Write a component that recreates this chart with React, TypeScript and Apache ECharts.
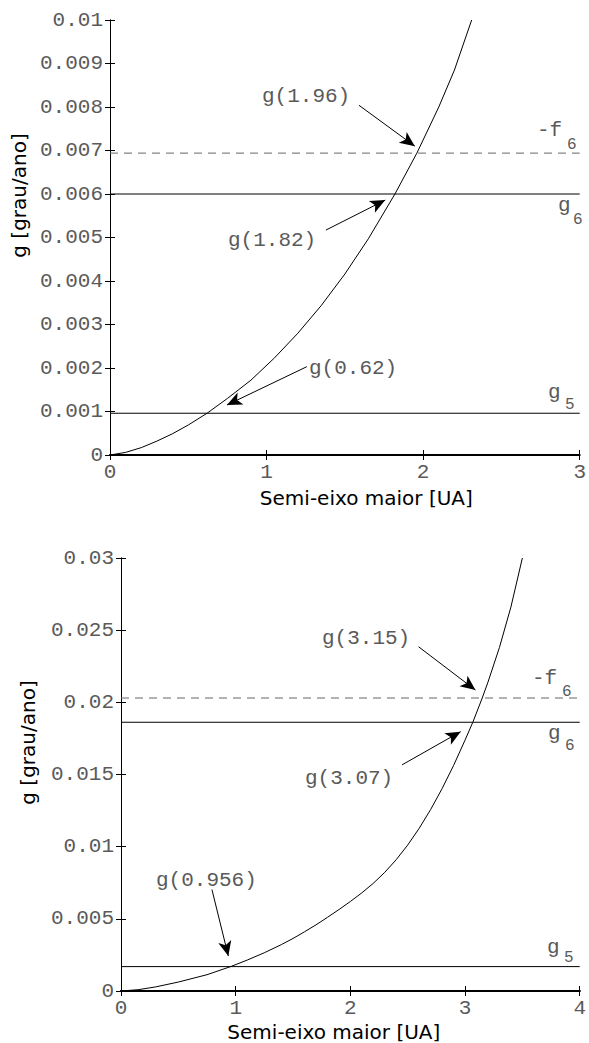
import React, { useEffect, useRef } from "react";
import * as echarts from "echarts";

// ---- Top panel data ----
const topA = [0, 0.1, 0.2, 0.3, 0.4, 0.5, 0.62, 0.75, 0.9, 1.05, 1.2, 1.35, 1.5, 1.65, 1.82, 1.96, 2.1, 2.2, 2.31];
const topG = [0, 0.00006, 0.00017, 0.00032, 0.00049, 0.00069, 0.00096, 0.0013, 0.00172, 0.00223, 0.0028, 0.00344, 0.00416, 0.00497, 0.006, 0.00694, 0.008, 0.00885, 0.01];
const topLevels = { g6: 0.006, f6: 0.00694, g5: 0.00096 };
const topXTicks = [0, 1, 2, 3];
const topYMax = 0.01;
const topYStep = 0.001;
// arrows: [fromA, fromG, toA, toG]
const topArrows = [
  [1.59, 0.00804, 1.947, 0.0071],
  [1.379, 0.00517, 1.758, 0.00586],
  [1.257, 0.00203, 0.747, 0.00115],
];
const topNotes = ["g(1.96)", "g(1.82)", "g(0.62)"];

// ---- Bottom panel data ----
const botA = [0, 0.15, 0.3, 0.5, 0.75, 0.956, 1.1, 1.25, 1.4, 1.5, 1.6, 1.7, 1.8, 1.9, 2.0, 2.1, 2.2, 2.3, 2.4, 2.5, 2.6, 2.7, 2.8, 2.9, 3.0, 3.07, 3.15, 3.2, 3.3, 3.4, 3.5];
const botG = [0, 0.00009, 0.00028, 0.00062, 0.00113, 0.00169, 0.00214, 0.00265, 0.00322, 0.00364, 0.0041, 0.00458, 0.0051, 0.00564, 0.0062, 0.0068, 0.00746, 0.00822, 0.0091, 0.01011, 0.01127, 0.01257, 0.01402, 0.01562, 0.01738, 0.01866, 0.0203, 0.0214, 0.0238, 0.0266, 0.03];
const botLevels = { g6: 0.01862, f6: 0.0203, g5: 0.00169 };
const botXTicks = [0, 1, 2, 3, 4];
const botYMax = 0.03;
const botYStep = 0.005;
const botArrows = [
  [2.595, 0.02385, 3.091, 0.02085],
  [2.451, 0.01567, 2.962, 0.01797],
  [0.793, 0.00703, 0.936, 0.00242],
];
const botNotes = ["g(3.15)", "g(3.07)", "g(0.956)"];

const MONO = "Liberation Mono";
const SANS = "DejaVu Sans";
const GREY = "#5a5a5a";

function fmt(v: number) {
  if (v === 0) return "0";
  let s = v.toFixed(3);
  s = s.replace(/0+$/, "");
  return s;
}

export default function App() {
  const ref = useRef<HTMLDivElement>(null);
  useEffect(() => {
    if (!ref.current) return;
    const chart = echarts.init(ref.current, undefined, { renderer: "svg" });

    const grids = [
      { left: 110, top: 20, width: 475, height: 435 },
      { left: 121, top: 558, width: 463, height: 434 },
    ];

    const tickLabel = { fontFamily: MONO, fontSize: 21, color: GREY };
    const axisLine = { show: true, lineStyle: { color: "#000", width: 1 } };
    const tick = { show: true, inside: true, length: 5, lineStyle: { color: "#000", width: 1 } };

    const mkX = (gi: number, max: number, pos: "top" | "bottom", labels: boolean, name?: string, pad?: number[], gap?: number, lw = 1) => ({
      type: "value",
      gridIndex: gi,
      min: 0,
      max,
      interval: 1,
      position: pos,
      axisLine: { show: true, lineStyle: { color: "#000", width: lw } },
      axisTick: tick,
      splitLine: { show: false },
      axisLabel: labels ? { ...tickLabel, margin: 7, formatter: (v: number) => String(v) } : { show: false },
      name: name || "",
      nameLocation: "middle",
      nameGap: gap || 33,
      nameTextStyle: { fontFamily: SANS, fontSize: 20, color: "#000", padding: pad },
    });
    const mkY = (gi: number, max: number, step: number, pos: "left" | "right", labels: boolean, name?: string, pad?: number[], gap?: number) => ({
      type: "value",
      gridIndex: gi,
      min: 0,
      max,
      interval: step,
      position: pos,
      axisLine,
      axisTick: tick,
      splitLine: { show: false },
      axisLabel: labels ? { ...tickLabel, margin: 7, formatter: (v: number) => fmt(v) } : { show: false },
      name: name || "",
      nameLocation: "middle",
      nameGap: gap || 80,
      nameTextStyle: { fontFamily: SANS, fontSize: 20, color: "#000", padding: pad },
    });

    const curve = (xi: number, yi: number, A: number[], G: number[], arrows: number[][]) => ({
      type: "line",
      xAxisIndex: xi,
      yAxisIndex: yi,
      data: A.map((a, i) => [a, G[i]]),
      showSymbol: false,
      smooth: false,
      lineStyle: { color: "#000", width: 1 },
      z: 5,
      markLine: {
        silent: true,
        symbol: ["none", "arrow"],
        symbolSize: [10, 15],
        label: { show: false },
        lineStyle: { color: "#000", width: 1, type: "solid" },
        data: arrows.map((r) => [{ coord: [r[0], r[1]] }, { coord: [r[2], r[3]] }]),
      },
    });
    const level = (xi: number, yi: number, xmax: number, v: number, dashed: boolean) => ({
      type: "line",
      xAxisIndex: xi,
      yAxisIndex: yi,
      data: [[0, v], [xmax, v]],
      showSymbol: false,
      lineStyle: dashed ? { color: "#666", width: 1, type: [8, 6] } : { color: "#000", width: 1 },
      z: 3,
    });

    const txt = (x: number, y: number, s: string, size = 21) => ({
      type: "text",
      x,
      y,
      style: { text: s, fontFamily: MONO, fontSize: size, fill: GREY, verticalAlign: "middle", textAlign: "left" },
    });

    const topXMax = topXTicks[topXTicks.length - 1];
    const botXMax = botXTicks[botXTicks.length - 1];

    chart.setOption({
      animation: false,
      backgroundColor: "#fff",
      grid: grids,
      xAxis: [
        mkX(0, topXMax, "bottom", true, "Semi-eixo maior [UA]", [0, 0, 0, 43], 33, 2),
        mkX(0, topXMax, "top", false),
        mkX(1, botXMax, "bottom", true, "Semi-eixo maior [UA]", [0, 33, 0, 0], 31, 2),
        mkX(1, botXMax, "top", false, "", undefined, 33, 2),
      ],
      yAxis: [
        mkY(0, topYMax, topYStep, "left", true, "g [grau/ano]", [0, 0, 0, 84], 80),
        mkY(0, topYMax, topYStep, "right", false),
        mkY(1, botYMax, botYStep, "left", true, "g [grau/ano]", [0, 0, 0, 64], 83),
        mkY(1, botYMax, botYStep, "right", false),
      ],
      series: [
        level(0, 0, topXMax, topLevels.f6, true),
        level(0, 0, topXMax, topLevels.g6, false),
        level(0, 0, topXMax, topLevels.g5, false),
        curve(0, 0, topA, topG, topArrows),
        level(2, 2, botXMax, botLevels.f6, true),
        level(2, 2, botXMax, botLevels.g6, false),
        level(2, 2, botXMax, botLevels.g5, false),
        curve(2, 2, botA, botG, botArrows),
      ],
      graphic: [
        txt(262, 96, topNotes[0]),
        txt(228, 240, topNotes[1]),
        txt(309, 368, topNotes[2]),
        txt(537, 130, "-f"),
        txt(567, 145, "6", 16),
        txt(558, 205, "g"),
        txt(573, 220, "6", 16),
        txt(548, 392, "g"),
        txt(565, 405, "5", 16),
        txt(322, 638, botNotes[0]),
        txt(305, 778, botNotes[1]),
        txt(156, 880, botNotes[2]),
        txt(532, 678, "-f"),
        txt(562, 692, "6", 16),
        txt(548, 733, "g"),
        txt(565, 746, "6", 16),
        txt(547, 947, "g"),
        txt(564, 958, "5", 16),
      ],
    });
    return () => chart.dispose();
  }, []);
  return <div ref={ref} style={{ position: "absolute", left: 0, top: 0, width: 589, height: 1043 }} />;
}
